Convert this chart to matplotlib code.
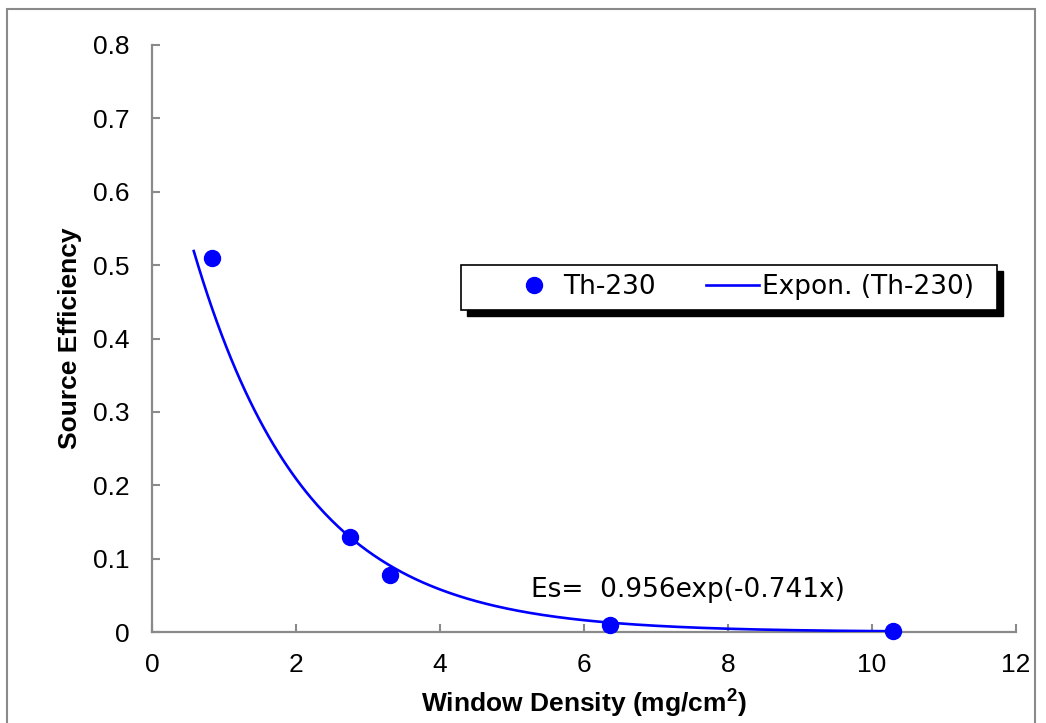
import numpy as np
import matplotlib
matplotlib.use('Agg')
import matplotlib.pyplot as plt
from matplotlib.patches import Rectangle

plt.rcParams['font.family'] = ['Liberation Sans', 'DejaVu Sans']

# data
density = [0.83, 2.75, 3.31, 6.36, 10.29]      # window density (mg/cm2)
efficiency = [0.510, 0.129, 0.078, 0.009, 0.001]  # source efficiency
series_name = 'Th-230'
trend_name = 'Expon. (Th-230)'
equation = 'Es=  0.956exp(-0.741x)'
# trendline as drawn (a*exp(-b*x)), backward forecast 0.25
trend_a = 0.753
trend_b = 0.641
backcast = 0.25

xticks = [0, 2, 4, 6, 8, 10, 12]
yticks = [0, 0.1, 0.2, 0.3, 0.4, 0.5, 0.6, 0.7, 0.8]
ytick_labels = ['0', '0.1', '0.2', '0.3', '0.4', '0.5', '0.6', '0.7', '0.8']

W, H = 1046, 723
fig = plt.figure(figsize=(W / 100, H / 100), dpi=100)

# outer chart border
fig.patches.append(Rectangle((7 / W, -0.05), (1035 - 7) / W, 1.05 - 9 / H,
                             transform=fig.transFigure, fill=False,
                             edgecolor='#8a8a8a', linewidth=1.5))

ax = fig.add_axes([152 / W, 1 - 632 / H, 864 / W, 587 / H])

x_fit = np.linspace(min(density) - backcast, max(density), 300)
ax.plot(x_fit, trend_a * np.exp(-trend_b * x_fit), color='#0000ff',
        linewidth=1.9, label=trend_name, zorder=3)
ax.plot(density, efficiency, linestyle='', marker='o', markersize=11.5,
        color='#0000ff', label=series_name, zorder=4, clip_on=False)

ax.set_xlim(0, 12)
ax.set_ylim(0, 0.8)
ax.set_xticks(xticks)
ax.set_yticks(yticks)
ax.set_yticklabels(ytick_labels)

for side in ['top', 'right']:
    ax.spines[side].set_visible(False)
for side in ['left', 'bottom']:
    ax.spines[side].set_color('#8a8a8a')
    ax.spines[side].set_linewidth(1.6)
ax.tick_params(axis='both', direction='in', length=6, width=1.5,
               color='#8a8a8a', labelsize=19)
ax.tick_params(axis='y', pad=16)
ax.tick_params(axis='x', pad=15)

ax.set_xlabel('Window Density (mg/cm$^\\mathregular{2}$)', fontsize=19, fontweight='bold')
ax.set_ylabel('Source Efficiency', fontsize=19, fontweight='bold')
ax.xaxis.set_label_coords(0.5, (632 - 703) / 587)
ax.yaxis.set_label_coords((70 - 152) / 864, 0.5)
ax.xaxis.label.set_va('center')
ax.yaxis.label.set_va('center')

ax.text(5.26, 0.057, equation, fontsize=19, family='DejaVu Sans',
        ha='left', va='center')

# legend box with hard black shadow
bx0, by0, bx1, by1 = 461, 265, 997, 310
fig.patches.append(Rectangle(((bx0 + 6) / W, 1 - (by1 + 6) / H), (bx1 - bx0) / W,
                             (by1 - by0) / H, transform=fig.transFigure,
                             facecolor='black', edgecolor='black', zorder=5))
fig.patches.append(Rectangle((bx0 / W, 1 - by1 / H), (bx1 - bx0) / W,
                             (by1 - by0) / H, transform=fig.transFigure,
                             facecolor='white', edgecolor='black',
                             linewidth=1.2, zorder=6))
handles, labels = ax.get_legend_handles_labels()
leg = fig.legend(handles[::-1], labels[::-1], loc='center left',
                 bbox_to_anchor=(508 / W, 1 - (by0 + by1) / 2 / H),
                 ncol=2, frameon=False, numpoints=1,
                 prop={'family': 'DejaVu Sans', 'size': 19},
                 handlelength=2.0, handletextpad=0.1, columnspacing=1.9,
                 borderpad=0, borderaxespad=0)
leg.set_zorder(7)

fig.savefig('out.png', dpi=100)
